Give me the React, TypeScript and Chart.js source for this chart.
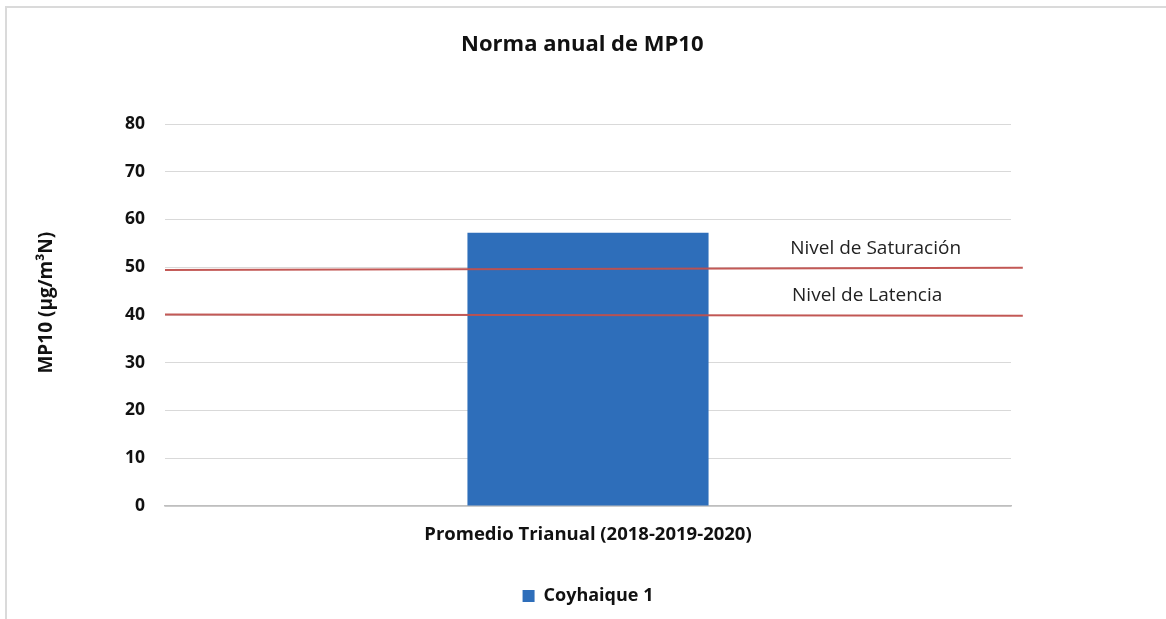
import React, { useEffect, useRef } from "react";
import { Chart, registerables } from "chart.js";

Chart.register(...registerables);

const categories = ["Promedio Trianual (2018-2019-2020)"];
const seriesName = "Coyhaique 1";
const seriesValues = [57.2];
const yTicksMin = 0;
const yTicksMax = 80;
const yTickStep = 10;

const limitNames = ["Nivel de Saturación", "Nivel de Latencia"];
const limitX = [0, 1.014];
const saturacionY = [49.4, 49.9];
const latenciaY = [40.1, 39.85];
const limitLabelX = [0.84, 0.83];
const limitLabelY = [54.0, 44.0];

const FONT = "'Open Sans', sans-serif";

const limitLabelsPlugin = {
  id: "limitLabels",
  afterDatasetsDraw(chart: any) {
    const { ctx, scales } = chart;
    const x2 = scales.x2;
    const y = scales.y;
    ctx.save();
    ctx.font = `19px ${FONT}`;
    ctx.fillStyle = "#222";
    ctx.textAlign = "center";
    ctx.textBaseline = "middle";
    limitNames.forEach((name, i) => {
      ctx.fillText(name, x2.getPixelForValue(limitLabelX[i]), y.getPixelForValue(limitLabelY[i]));
    });
    ctx.restore();
  },
};

export default function App() {
  const canvasRef = useRef<HTMLCanvasElement>(null);

  useEffect(() => {
    if (!canvasRef.current) return;
    Chart.defaults.font.family = FONT;
    const chart = new Chart(canvasRef.current, {
      type: "bar",
      data: {
        labels: categories,
        datasets: [
          {
            type: "line",
            label: limitNames[0],
            data: limitX.map((x, i) => ({ x, y: saturacionY[i] })),
            xAxisID: "x2",
            borderColor: "rgba(192,80,77,0.95)",
            borderWidth: 2,
            pointRadius: 0,
            clip: false,
            order: 0,
          } as any,
          {
            type: "line",
            label: limitNames[1],
            data: limitX.map((x, i) => ({ x, y: latenciaY[i] })),
            xAxisID: "x2",
            borderColor: "rgba(192,80,77,0.95)",
            borderWidth: 2,
            pointRadius: 0,
            clip: false,
            order: 0,
          } as any,
          {
            type: "bar",
            label: seriesName,
            data: seriesValues,
            backgroundColor: "#2E6EBA",
            xAxisID: "x",
            barPercentage: 0.285,
            categoryPercentage: 1,
            grouped: false,
            order: 1,
          },
        ],
      },
      options: {
        animation: false,
        responsive: false,
        maintainAspectRatio: false,
        layout: { padding: { left: 0, right: 155, top: 0, bottom: 4 } },
        plugins: {
          title: {
            display: true,
            fullSize: false,
            text: "Norma anual de MP10  ",
            color: "#111",
            font: { size: 22, weight: "bold", family: FONT },
            padding: { top: 23.8, bottom: 65.8 },
          },
          legend: {
            position: "bottom",
            fullSize: false,
            labels: {
              filter: (item: any) => item.text === seriesName,
              boxWidth: 12,
              boxHeight: 12,
              color: "#111",
              font: { size: 18, weight: "bold", family: FONT },
            },
          },
          tooltip: { enabled: false },
        },
        scales: {
          x: {
            type: "category",
            grid: { display: false, drawTicks: false },
            border: { display: true, color: "#bfbfbf", width: 1.5 },
            ticks: {
              color: "#111",
              padding: 18,
              font: { size: 18.5, weight: "bold", family: FONT },
            },
            afterFit: (s: any) => {
              s.height = 71;
            },
          },
          x2: {
            type: "linear",
            display: false,
            offset: false,
            grid: { offset: false },
            min: 0,
            max: 1,
          },
          y: {
            min: yTicksMin,
            max: yTicksMax,
            ticks: {
              stepSize: yTickStep,
              color: "#111",
              padding: 20,
              font: { size: 17.5, weight: "bold", family: FONT },
            },
            grid: { color: "#d9d9d9", lineWidth: 1, drawTicks: false },
            border: { display: false },
            title: {
              display: true,
              text: "     MP10 (µg/m³N)",
              color: "#111",
              font: { size: 19, weight: "bold", family: FONT },
              padding: { top: 28.6, bottom: 0 },
            },
            afterFit: (s: any) => {
              s.width = 158;
            },
          },
        },
      } as any,
      plugins: [limitLabelsPlugin],
    });
    return () => chart.destroy();
  }, []);

  return (
    <div
      style={{
        position: "absolute",
        left: 5,
        top: 6,
        width: 1161,
        height: 613,
        borderTop: "2px solid #dadada",
        borderLeft: "2px solid #dadada",
        boxSizing: "border-box",
        background: "#fff",
      }}
    >
      <canvas ref={canvasRef} width={1159} height={611} style={{ display: "block" }} />
    </div>
  );
}
